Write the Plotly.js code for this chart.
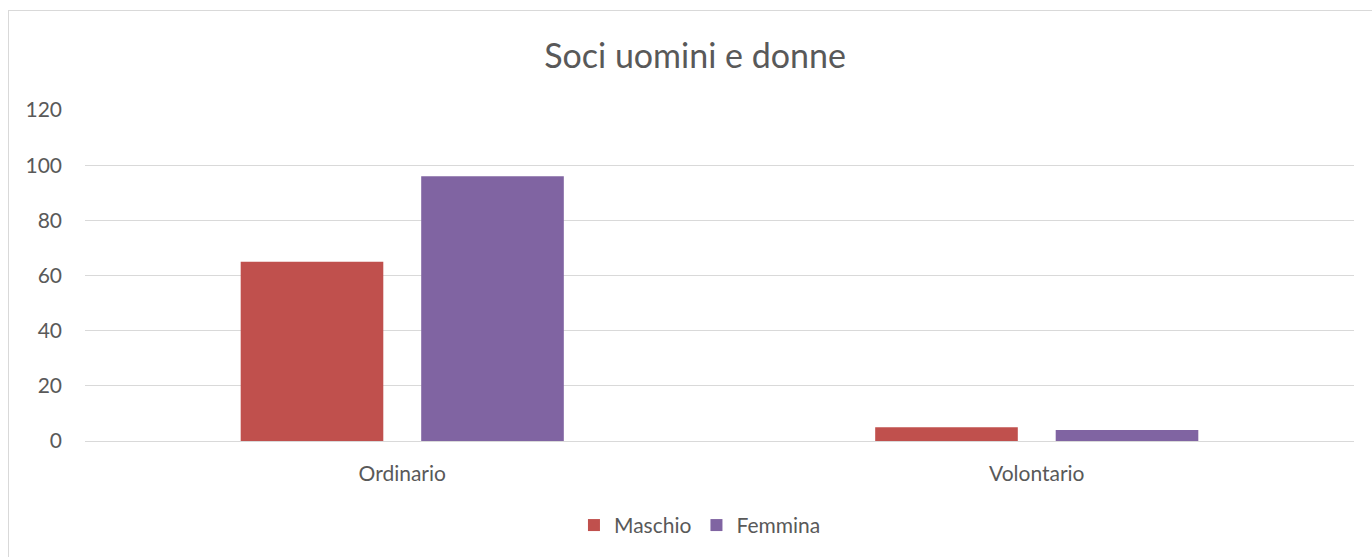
<!DOCTYPE html>
<html>
<head>
<meta charset="utf-8">
<script src="https://cdn.plot.ly/plotly-3.0.1.min.js"></script>
<style>
  html, body { margin: 0; padding: 0; background: #fff; }
  #wrap { position: relative; width: 1372px; height: 557px; overflow: hidden; }
  #frame { position: absolute; left: 8px; top: 10px; width: 1400px; height: 600px; border: 1px solid #D9D9D9; box-sizing: border-box; }
  #chart { position: absolute; left: 0; top: 0; width: 1372px; height: 557px; }
</style>
</head>
<body>
<div id="wrap">
  <div id="frame"></div>
  <div id="chart"></div>
</div>
<script>
const categories = ["Ordinario", "Volontario"];
const maschio = [65, 5];
const femmina = [96, 4];
const seriesNames = ["Maschio", "Femmina"];
const yTicks = [0, 20, 40, 60, 80, 100, 120];

const fontFam = "Lato, 'Open Sans', sans-serif";
const textCol = "#595959";

const data = [
  { type: "bar", name: seriesNames[0], x: categories, y: maschio, marker: { color: "#C0504D" }, hoverinfo: "x+y+name" },
  { type: "bar", name: seriesNames[1], x: categories, y: femmina, marker: { color: "#8064A2" }, hoverinfo: "x+y+name" }
];

const layout = {
  width: 1372, height: 557,
  paper_bgcolor: "rgba(0,0,0,0)",
  plot_bgcolor: "rgba(0,0,0,0)",
  margin: { l: 85, r: 18, t: 110, b: 116, autoexpand: false },
  title: { text: "Soci uomini e donne", x: 0.5066, xref: "container", xanchor: "center", y: 0.9, yref: "container", yanchor: "middle",
           font: { family: fontFam, size: 34, color: textCol } },
  barmode: "group",
  bargap: 0.431,
  bargroupgap: 0.21,
  xaxis: {
    type: "category",
    showgrid: false,
    showline: true, linecolor: "#D9D9D9", linewidth: 1,
    ticks: "", ticklabelstandoff: 14,
    tickfont: { family: fontFam, size: 21, color: textCol },
    fixedrange: true
  },
  yaxis: {
    range: [0, 120], tickvals: yTicks, ticktext: yTicks.map(String),
    showgrid: true, gridcolor: "#D9D9D9", gridwidth: 1,
    zeroline: false, showline: false, ticks: "",
    ticklabelstandoff: 22,
    tickfont: { family: fontFam, size: 21, color: textCol },
    fixedrange: true
  },
  showlegend: true,
  legend: { orientation: "h", x: 0.4846, xanchor: "center", y: -0.255, yanchor: "middle",
            font: { family: fontFam, size: 21, color: textCol }, itemwidth: 30, traceorder: "normal" }
};

Plotly.newPlot("chart", data, layout, { displayModeBar: false, staticPlot: true });
</script>
</body>
</html>
